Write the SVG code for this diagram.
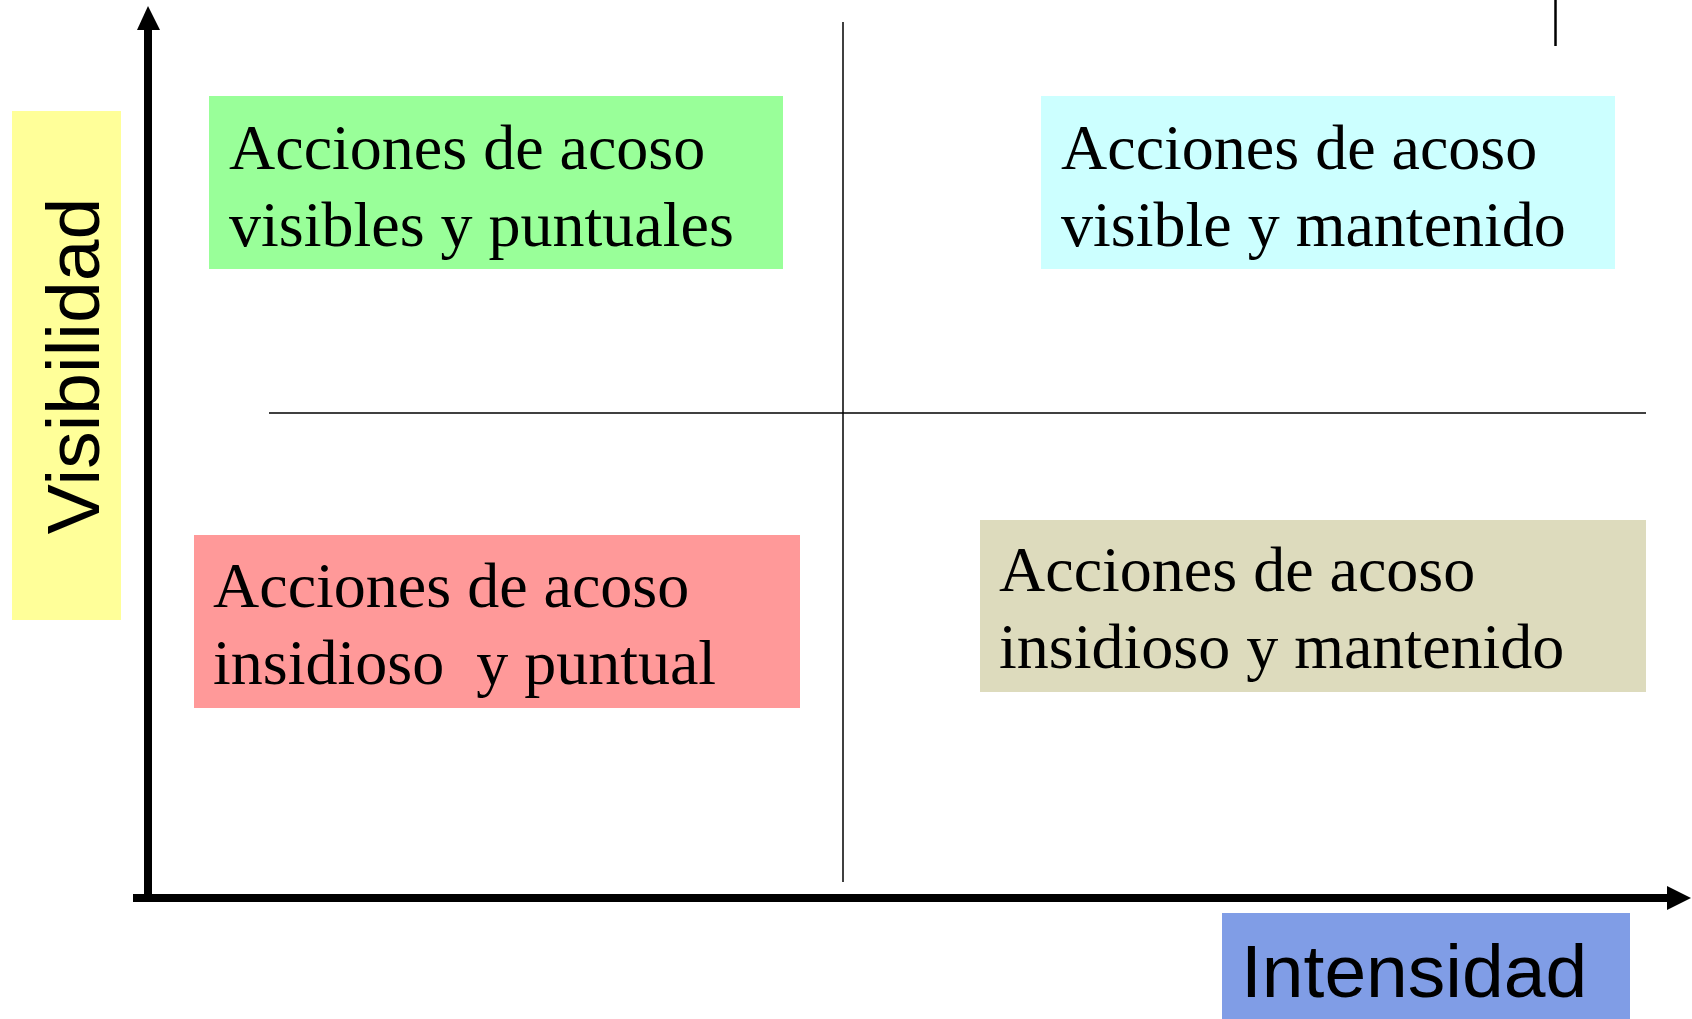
<svg xmlns="http://www.w3.org/2000/svg" width="1692" height="1019" viewBox="0 0 1692 1019">
<defs>
<style>
.q{font-family:"Liberation Serif","Times New Roman",serif;font-size:64px;fill:#000;white-space:pre}
.ax{font-family:"Liberation Sans",Arial,sans-serif;font-size:75px;fill:#000}
.thin{stroke:#000;stroke-width:1.5;fill:none}
.axis{stroke:#000;stroke-width:8;fill:none}
</style>
</defs>
<rect width="1692" height="1019" fill="#fff"/>
<g id="connectors">
<line class="thin" x1="843" y1="22" x2="843" y2="882"/>
<line class="thin" x1="269" y1="413" x2="1646" y2="413"/>
<line x1="1555.5" y1="0" x2="1555.5" y2="46" stroke="#000" stroke-width="2.5"/>
<line class="axis" x1="148" y1="898" x2="148" y2="28"/>
<polygon points="148,6 137,30 160,30" fill="#000"/>
<line class="axis" x1="133" y1="898" x2="1668" y2="898"/>
<polygon points="1691,898 1667,886 1667,910" fill="#000"/>
</g>
<g id="visibilidad">
<rect x="12" y="111" width="109" height="509" fill="#FFFF99"/>
<text class="ax" transform="translate(99,366) rotate(-90)" text-anchor="middle">Visibilidad</text>
</g>
<g id="intensidad">
<rect x="1222" y="913" width="408" height="106" fill="#809DE6"/>
<text class="ax" x="1241" y="997">Intensidad</text>
</g>
<g id="visibles-puntuales">
<rect x="209" y="96" width="574" height="173" fill="#99FF99"/>
<text class="q" x="229" y="169">Acciones de acoso</text>
<text class="q" x="229" y="246">visibles y puntuales</text>
</g>
<g id="visible-mantenido">
<rect x="1041" y="96" width="574" height="173" fill="#CCFFFF"/>
<text class="q" x="1061" y="169">Acciones de acoso</text>
<text class="q" x="1061" y="246">visible y mantenido</text>
</g>
<g id="insidioso-puntual">
<rect x="194" y="535" width="606" height="173" fill="#FF9999"/>
<text class="q" x="213" y="607">Acciones de acoso</text>
<text class="q" x="213" y="684">insidioso  y puntual</text>
</g>
<g id="insidioso-mantenido">
<rect x="980" y="520" width="666" height="172" fill="#DDDBBD"/>
<text class="q" x="999" y="591">Acciones de acoso</text>
<text class="q" x="999" y="668">insidioso y mantenido</text>
</g>
</svg>
